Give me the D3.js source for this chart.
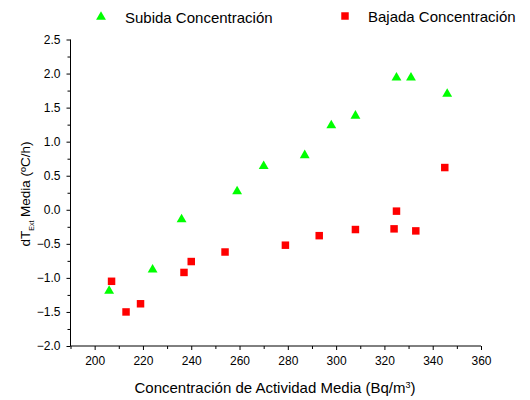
<!DOCTYPE html>
<html>
<head>
<meta charset="utf-8">
<script src="https://cdn.jsdelivr.net/npm/d3@7"></script>
<style>
  html, body { margin: 0; padding: 0; background: #fff; }
  svg { display: block; font-family: Arial, "Liberation Sans", sans-serif; }
</style>
</head>
<body>
<svg id="chart" width="530" height="400"></svg>
<script>
// Rising concentration series
const subidaX = [206, 224, 236, 259, 270, 287, 298, 308, 325, 331, 346];
const subidaY = [-1.19, -0.88, -0.14, 0.27, 0.64, 0.80, 1.24, 1.38, 1.94, 1.94, 1.70];

// Falling concentration series
const bajadaX = [207, 213, 219, 237, 240, 254, 279, 293, 308, 324, 325, 333, 345];
const bajadaY = [-1.05, -1.50, -1.38, -0.92, -0.76, -0.62, -0.52, -0.38, -0.29, -0.28, -0.02, -0.31, 0.62];

const seriesNames = ["Subida Concentración", "Bajada Concentración"];

const xMajorTicks = [200, 220, 240, 260, 280, 300, 320, 340, 360];
const xMinorTicks = [190, 210, 230, 250, 270, 290, 310, 330, 350];
const yMajorTicks = [-2.0, -1.5, -1.0, -0.5, 0.0, 0.5, 1.0, 1.5, 2.0, 2.5];
const yMinorTicks = [-1.75, -1.25, -0.75, -0.25, 0.25, 0.75, 1.25, 1.75, 2.25];

const FONT = "Arial, 'Liberation Sans', sans-serif";
const svg = d3.select("#chart");

const x = d3.scaleLinear().domain([190, 360]).range([70.5, 481]);
const y = d3.scaleLinear().domain([-2.0, 2.5]).range([346, 39.5]);

// Bottom axis: major ticks with labels, minor ticks without
svg.append("g")
  .attr("transform", `translate(0,${y(-2.0)})`)
  .call(d3.axisBottom(x).tickValues(xMinorTicks).tickSize(3).tickFormat(""))
  .call(g => g.select(".domain").remove())
  .call(g => g.selectAll("line").attr("stroke", "#000"));

const xAxis = svg.append("g")
  .attr("transform", `translate(0,${y(-2.0)})`)
  .call(d3.axisBottom(x).tickValues(xMajorTicks).tickSize(4).tickSizeOuter(0).tickPadding(6).tickFormat(d3.format("d")));
xAxis.select(".domain").attr("stroke", "#000").attr("d", `M${x(190)},0H${x(360)}`);
xAxis.selectAll("line").attr("stroke", "#000");
xAxis.selectAll("text").attr("font-size", 12).attr("fill", "#000").attr("font-family", FONT);

// Left axis
svg.append("g")
  .attr("transform", `translate(${x(190)},0)`)
  .call(d3.axisLeft(y).tickValues(yMinorTicks).tickSize(3).tickFormat(""))
  .call(g => g.select(".domain").remove())
  .call(g => g.selectAll("line").attr("stroke", "#000"));

const yAxis = svg.append("g")
  .attr("transform", `translate(${x(190)},0)`)
  .call(d3.axisLeft(y).tickValues(yMajorTicks).tickSize(4).tickSizeOuter(0).tickPadding(6).tickFormat(d3.format(".1f")));
yAxis.select(".domain").attr("stroke", "#000").attr("d", `M0,${y(2.5)}V${y(-2.0)}`);
yAxis.selectAll("line").attr("stroke", "#000");
yAxis.selectAll("text").attr("font-size", 12).attr("fill", "#000").attr("font-family", FONT);

// Axis titles
const xTitle = svg.append("text")
  .attr("x", 275).attr("y", 393)
  .attr("text-anchor", "middle")
  .attr("font-size", 15);
xTitle.append("tspan").text("Concentración de Actividad Media (Bq/m");
xTitle.append("tspan").attr("baseline-shift", "super").attr("font-size", 9).text("3");
xTitle.append("tspan").text(")");

const yTitle = svg.append("text")
  .attr("transform", `translate(30,194) rotate(-90)`)
  .attr("text-anchor", "middle")
  .attr("font-size", 13.5);
yTitle.append("tspan").text("dT");
yTitle.append("tspan").attr("baseline-shift", "sub").attr("font-size", 7).text("Ext");
yTitle.append("tspan").text(" Media (ºC/h)");

// Markers
const tri = d3.symbol().type(d3.symbolTriangle).size(42);
const sq = d3.symbol().type(d3.symbolSquare).size(56);

svg.append("g").selectAll("path")
  .data(subidaX.map((v, i) => [v, subidaY[i]]))
  .join("path")
  .attr("d", tri)
  .attr("transform", d => `translate(${x(d[0])},${y(d[1])})`)
  .attr("fill", "#00ff00");

svg.append("g").selectAll("path")
  .data(bajadaX.map((v, i) => [v, bajadaY[i]]))
  .join("path")
  .attr("d", sq)
  .attr("transform", d => `translate(${x(d[0])},${y(d[1])})`)
  .attr("fill", "#ff0000");

// Legend
const legend = svg.append("g").attr("font-size", 15);
legend.append("path").attr("d", tri).attr("transform", "translate(101,17)").attr("fill", "#00ff00");
legend.append("text").attr("x", 125).attr("y", 23).text(seriesNames[0]);
legend.append("path").attr("d", sq).attr("transform", "translate(345,16)").attr("fill", "#ff0000");
legend.append("text").attr("x", 368).attr("y", 22).text(seriesNames[1]);
</script>
</body>
</html>
